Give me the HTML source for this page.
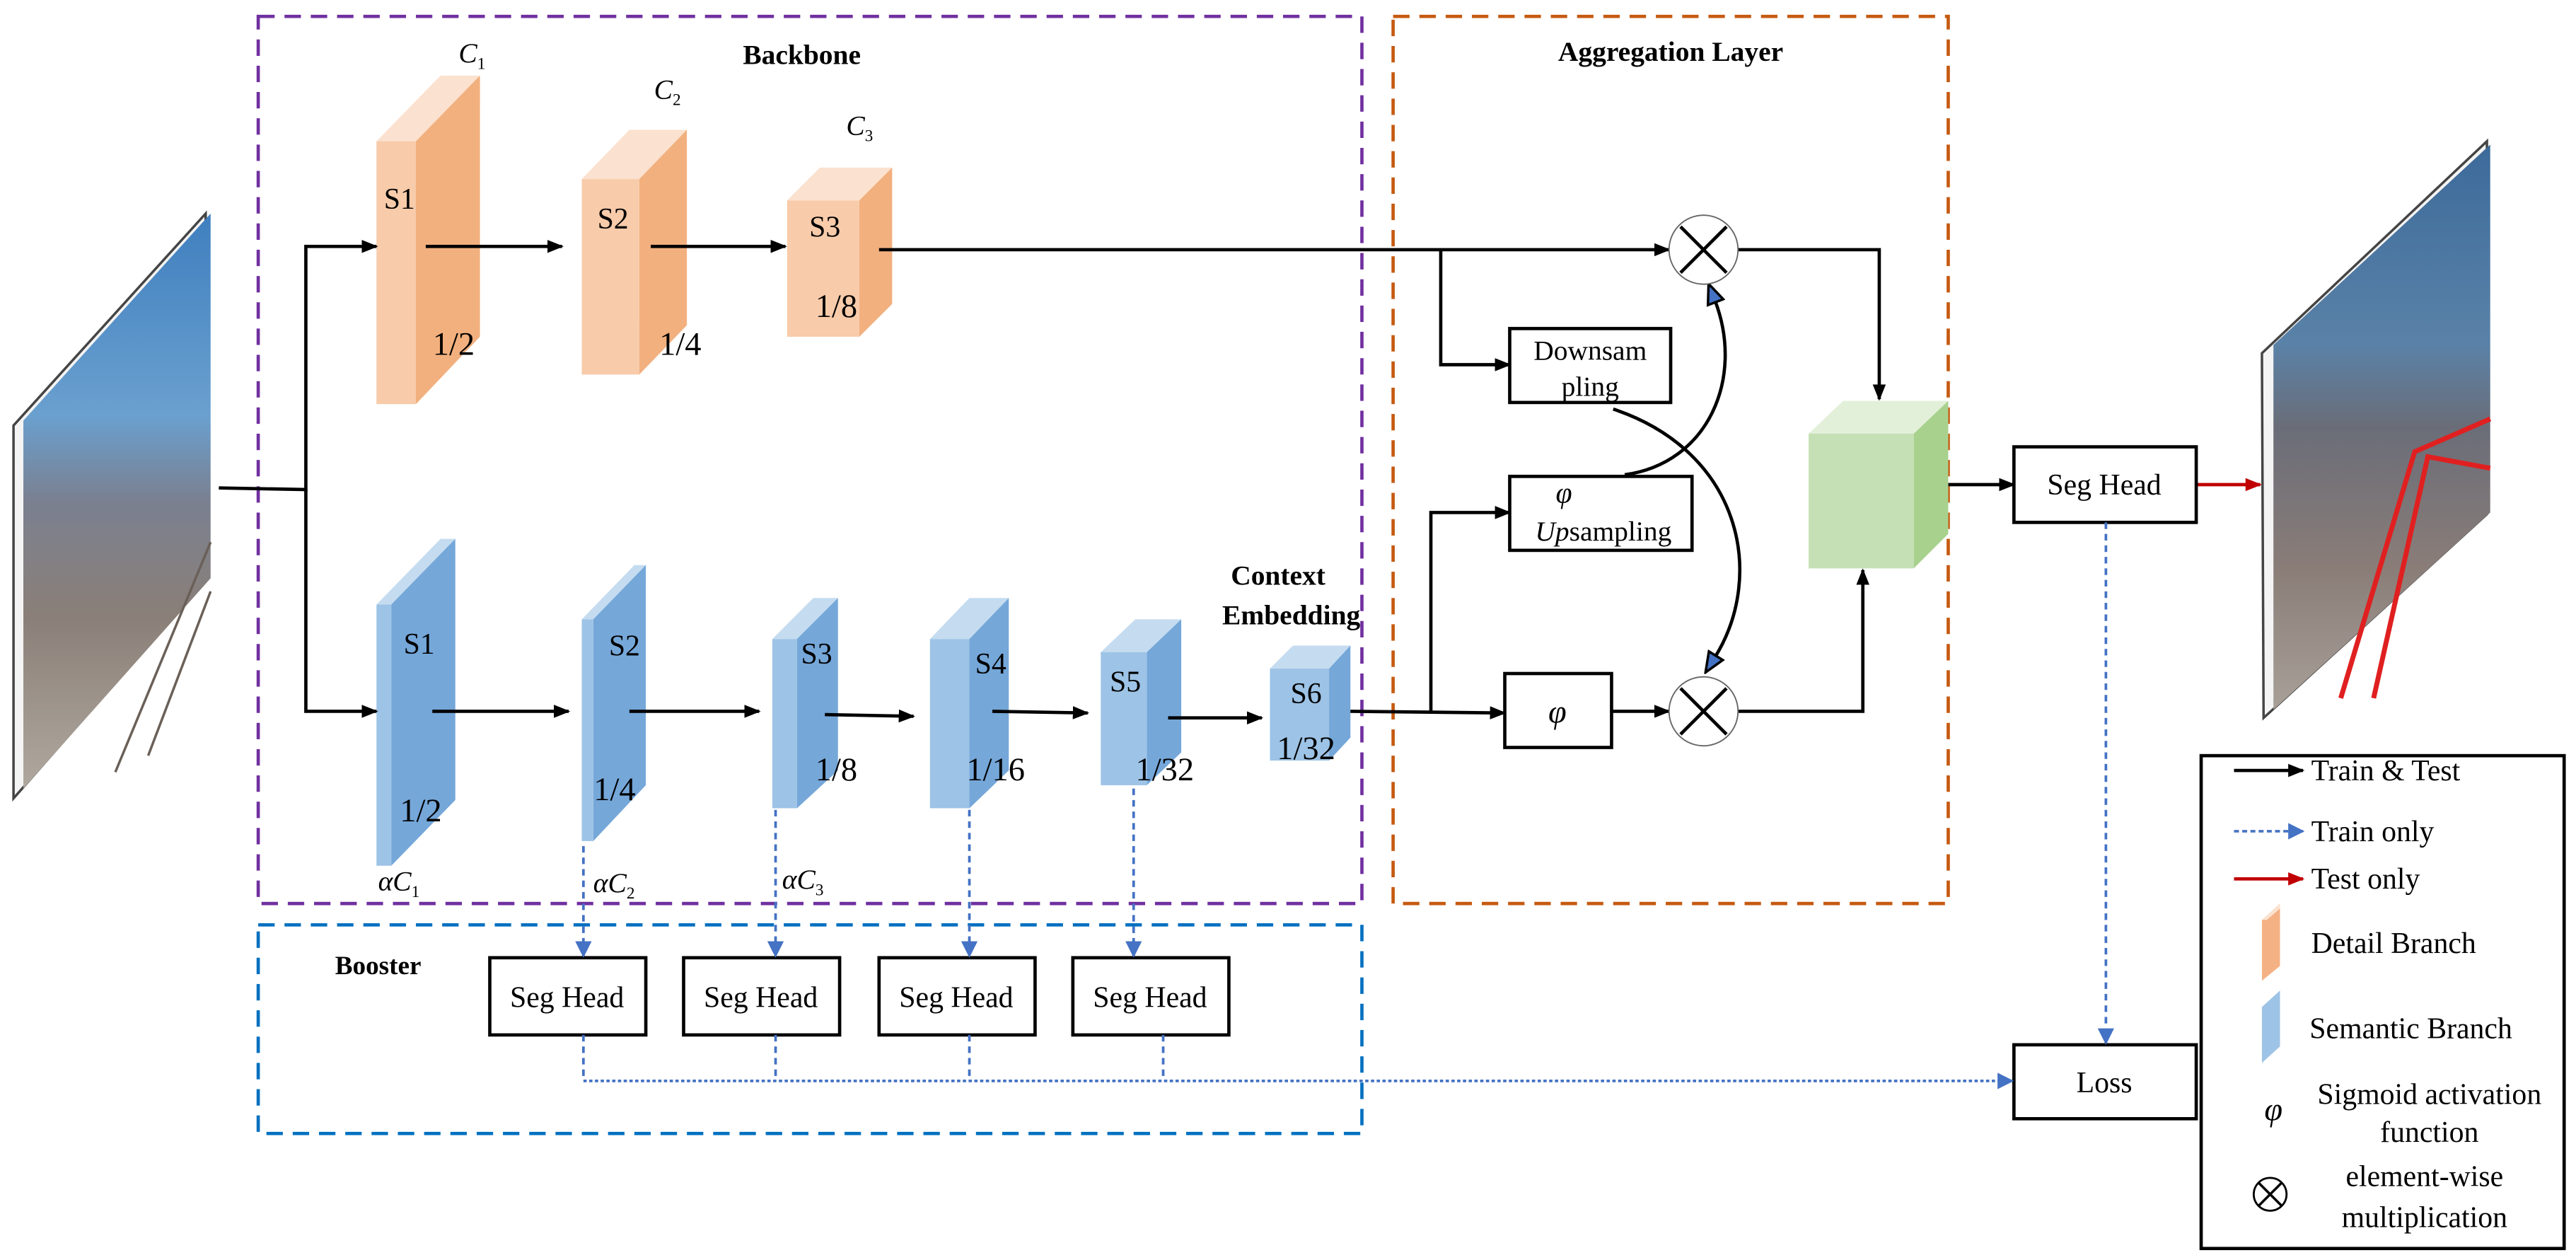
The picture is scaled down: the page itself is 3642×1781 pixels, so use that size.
<!DOCTYPE html>
<html><head><meta charset="utf-8"><style>
html,body{margin:0;padding:0;background:#fff;}
svg{display:block;font-family:"Liberation Serif",serif;}
text{font-family:"Liberation Serif",serif;fill:#000;}
</style></head><body>
<svg width="3642" height="1781" viewBox="0 0 1568 767" xmlns="http://www.w3.org/2000/svg" font-family="Liberation Serif, serif">
<defs>
<marker id="ab" markerWidth="10" markerHeight="8" refX="9" refY="4" orient="auto" markerUnits="userSpaceOnUse"><path d="M0,0 L10,4 L0,8 z" fill="#000"/></marker>
<marker id="abl" markerWidth="10" markerHeight="10" refX="9" refY="5" orient="auto" markerUnits="userSpaceOnUse"><path d="M0,0 L10,5 L0,10 z" fill="#4472C4"/></marker>
<marker id="ar" markerWidth="10" markerHeight="8" refX="9" refY="4" orient="auto" markerUnits="userSpaceOnUse"><path d="M0,0 L10,4 L0,8 z" fill="#C00000"/></marker>
<marker id="atri" markerWidth="14" markerHeight="12" refX="2" refY="6" orient="auto" markerUnits="userSpaceOnUse"><path d="M1,1 L13,6 L1,11 z" fill="#4472C4" stroke="#000" stroke-width="1.5"/></marker>
<linearGradient id="photo" x1="0" y1="0" x2="0" y2="1">
<stop offset="0" stop-color="#3f7fbf"/><stop offset="0.35" stop-color="#6aa0cf"/><stop offset="0.5" stop-color="#7a8090"/><stop offset="0.7" stop-color="#8a7f78"/><stop offset="1" stop-color="#b0a89e"/></linearGradient>
<linearGradient id="photo2" x1="0" y1="0" x2="0" y2="1">
<stop offset="0" stop-color="#3c6a9a"/><stop offset="0.35" stop-color="#5a82a8"/><stop offset="0.5" stop-color="#6a6d78"/><stop offset="0.75" stop-color="#8a7d78"/><stop offset="1" stop-color="#a8a098"/></linearGradient>
</defs>

<rect x="157" y="10" width="672" height="540" fill="none" stroke="#7030A0" stroke-width="2" stroke-dasharray="10,6"/>
<rect x="848" y="10" width="338" height="540" fill="none" stroke="#C55A11" stroke-width="2" stroke-dasharray="10,6"/>
<rect x="157" y="563" width="672" height="127" fill="none" stroke="#0070C0" stroke-width="2" stroke-dasharray="10,6"/>

<text x="488" y="39" font-size="17" font-weight="bold" text-anchor="middle">Backbone</text>
<text x="1017" y="37" font-size="17" font-weight="bold" text-anchor="middle">Aggregation Layer</text>
<text x="230" y="593" font-size="16" font-weight="bold" text-anchor="middle">Booster</text>

<!-- input image -->
<polygon points="8,259 125,130 125,353 8,486" fill="#f4f4f4" stroke="#444" stroke-width="1.5"/>
<polygon points="14,256 128,130 128,352 14,480" fill="url(#photo)"/>
<polyline points="70,470 128,330" stroke="#6a6058" stroke-width="1.5" fill="none"/>
<polyline points="90,460 128,360" stroke="#6a6058" stroke-width="1.5" fill="none"/>

<!-- output image -->
<polygon points="1377,215 1514,86 1514,313 1378,437" fill="#f4f4f4" stroke="#444" stroke-width="1.5"/>
<polygon points="1384,210 1516,88 1516,312 1384,432" fill="url(#photo2)"/>
<polyline points="1425,425 1470,275 1516,255" stroke="#e02020" stroke-width="3" fill="none"/>
<polyline points="1445,425 1478,278 1516,285" stroke="#e02020" stroke-width="3" fill="none"/>

<!-- detail branch -->
<g stroke="none">
<polygon points="229,86 268,46 292,46 253,86" fill="#FBE1CF"/>
<polygon points="253,86 292,46 292,205 253,246" fill="#F2B07E"/>
<rect x="229" y="86" width="24" height="160" fill="#F8CBAA"/>
<polygon points="354,109 383,79 418,79 389,109" fill="#FBE1CF"/>
<polygon points="389,109 418,79 418,198 389,228" fill="#F2B07E"/>
<rect x="354" y="109" width="35" height="119" fill="#F8CBAA"/>
<polygon points="479,122 499,102 543,102 523,122" fill="#FBE1CF"/>
<polygon points="523,122 543,102 543,185 523,205" fill="#F2B07E"/>
<rect x="479" y="122" width="44" height="83" fill="#F8CBAA"/>
</g>
<text x="243" y="127" font-size="18" text-anchor="middle">S1</text>
<text x="276" y="216" font-size="20" text-anchor="middle">1/2</text>
<text x="373" y="139" font-size="18" text-anchor="middle">S2</text>
<text x="414" y="216" font-size="20" text-anchor="middle">1/4</text>
<text x="502" y="144" font-size="18" text-anchor="middle">S3</text>
<text x="509" y="193" font-size="20" text-anchor="middle">1/8</text>
<text x="279" y="38" font-size="17" font-style="italic">C<tspan font-size="10" dy="4" font-style="normal">1</tspan></text>
<text x="398" y="60" font-size="17" font-style="italic">C<tspan font-size="10" dy="4" font-style="normal">2</tspan></text>
<text x="515" y="82" font-size="17" font-style="italic">C<tspan font-size="10" dy="4" font-style="normal">3</tspan></text>

<!-- semantic branch -->
<g stroke="none">
<polygon points="229,368 268,328 277,328 238,368" fill="#C5DCF0"/>
<polygon points="238,368 277,328 277,487 238,527" fill="#75A7D9"/>
<rect x="229" y="368" width="9" height="159" fill="#9DC3E6"/>
<polygon points="354,377 386,344 393,344 361,377" fill="#C5DCF0"/>
<polygon points="361,377 393,344 393,478 361,512" fill="#75A7D9"/>
<rect x="354" y="377" width="7" height="135" fill="#9DC3E6"/>
<polygon points="470,389 495,364 510,364 485,389" fill="#C5DCF0"/>
<polygon points="485,389 510,364 510,469 485,492" fill="#75A7D9"/>
<rect x="470" y="389" width="15" height="103" fill="#9DC3E6"/>
<polygon points="566,389 590,364 614,364 590,389" fill="#C5DCF0"/>
<polygon points="590,389 614,364 614,469 590,492" fill="#75A7D9"/>
<rect x="566" y="389" width="24" height="103" fill="#9DC3E6"/>
<polygon points="670,397 691,377 719,377 698,397" fill="#C5DCF0"/>
<polygon points="698,397 719,377 719,458 698,478" fill="#75A7D9"/>
<rect x="670" y="397" width="28" height="81" fill="#9DC3E6"/>
<polygon points="773,407 787,393 822,393 809,407" fill="#C5DCF0"/>
<polygon points="809,407 822,393 822,449 809,463" fill="#75A7D9"/>
<rect x="773" y="407" width="36" height="56" fill="#9DC3E6"/>
</g>
<text x="255" y="398" font-size="18" text-anchor="middle">S1</text>
<text x="256" y="500" font-size="20" text-anchor="middle">1/2</text>
<text x="380" y="399" font-size="18" text-anchor="middle">S2</text>
<text x="374" y="487" font-size="20" text-anchor="middle">1/4</text>
<text x="497" y="404" font-size="18" text-anchor="middle">S3</text>
<text x="509" y="475" font-size="20" text-anchor="middle">1/8</text>
<text x="603" y="410" font-size="18" text-anchor="middle">S4</text>
<text x="606" y="475" font-size="20" text-anchor="middle">1/16</text>
<text x="685" y="421" font-size="18" text-anchor="middle">S5</text>
<text x="709" y="475" font-size="20" text-anchor="middle">1/32</text>
<text x="795" y="428" font-size="18" text-anchor="middle">S6</text>
<text x="795" y="462" font-size="20" text-anchor="middle">1/32</text>
<text x="778" y="356" font-size="17" font-weight="bold" text-anchor="middle">Context</text>
<text x="786" y="380" font-size="17" font-weight="bold" text-anchor="middle">Embedding</text>
<text x="230" y="542" font-size="17" font-style="italic">αC<tspan font-size="10" dy="4" font-style="normal">1</tspan></text>
<text x="361" y="543" font-size="17" font-style="italic">αC<tspan font-size="10" dy="4" font-style="normal">2</tspan></text>
<text x="476" y="541" font-size="17" font-style="italic">αC<tspan font-size="10" dy="4" font-style="normal">3</tspan></text>

<g stroke="#000" stroke-width="2" fill="none">
<polyline points="133,297 186,298 186,150 229,150" marker-end="url(#ab)"/>
<polyline points="186,298 186,433 229,433" marker-end="url(#ab)"/>
<line x1="259" y1="150" x2="342" y2="150" marker-end="url(#ab)"/>
<line x1="396" y1="150" x2="478" y2="150" marker-end="url(#ab)"/>
<line x1="535" y1="152" x2="1016" y2="152" marker-end="url(#ab)"/>
<line x1="263" y1="433" x2="346" y2="433" marker-end="url(#ab)"/>
<line x1="383" y1="433" x2="462" y2="433" marker-end="url(#ab)"/>
<line x1="502" y1="435" x2="556" y2="436" marker-end="url(#ab)"/>
<line x1="604" y1="433" x2="662" y2="434" marker-end="url(#ab)"/>
<line x1="711" y1="437" x2="768" y2="437" marker-end="url(#ab)"/>
<polyline points="822,433 916,434" marker-end="url(#ab)"/>
<polyline points="871,434 871,312 919,312" marker-end="url(#ab)"/>
<polyline points="877,152 877,222 919,222" marker-end="url(#ab)"/>
<line x1="981" y1="433" x2="1016" y2="433" marker-end="url(#ab)"/>
<polyline points="1058,152 1144,152 1144,243" marker-end="url(#ab)"/>
<polyline points="1058,433 1134,433 1134,347" marker-end="url(#ab)"/>
<line x1="1186" y1="295" x2="1226" y2="295" marker-end="url(#ab)"/>
<path d="M989,289 C1040,282 1062,230 1044,183" marker-end="url(#atri)"/>
<path d="M982,249 C1060,275 1075,350 1044,400" marker-end="url(#atri)"/>
</g>
<line x1="1337" y1="295" x2="1376" y2="295" stroke="#C00000" stroke-width="2" marker-end="url(#ar)"/>

<g>
<circle cx="1037" cy="152" r="21" fill="#fff" stroke="#666" stroke-width="0.8"/>
<line x1="1023" y1="138" x2="1051" y2="166" stroke="#000" stroke-width="2"/>
<line x1="1051" y1="138" x2="1023" y2="166" stroke="#000" stroke-width="2"/>
<circle cx="1037" cy="433" r="21" fill="#fff" stroke="#666" stroke-width="0.8"/>
<line x1="1023" y1="419" x2="1051" y2="447" stroke="#000" stroke-width="2"/>
<line x1="1051" y1="419" x2="1023" y2="447" stroke="#000" stroke-width="2"/>
</g>

<g fill="#fff" stroke="#000" stroke-width="2">
<rect x="919" y="200" width="98" height="45"/>
<rect x="919" y="290" width="111" height="45"/>
<rect x="916" y="410" width="65" height="45"/>
</g>
<text x="968" y="219" font-size="17" text-anchor="middle">Downsam</text>
<text x="968" y="241" font-size="17" text-anchor="middle">pling</text>
<text x="952" y="306" font-size="18" font-style="italic" text-anchor="middle">φ</text>
<text x="976" y="329" font-size="17" text-anchor="middle"><tspan font-style="italic">Up</tspan>sampling</text>
<text x="948" y="440" font-size="20" font-style="italic" text-anchor="middle">φ</text>

<polygon points="1101,264 1122,244 1186,244 1165,264" fill="#E2F0D9"/>
<polygon points="1165,264 1186,244 1186,325 1165,346" fill="#A9D18E"/>
<rect x="1101" y="264" width="64" height="82" fill="#C5E0B4"/>

<g fill="#fff" stroke="#000" stroke-width="2">
<rect x="1226" y="272" width="111" height="46"/>
<rect x="1226" y="636" width="111" height="45"/>
<rect x="298" y="583" width="95" height="47"/>
<rect x="416" y="583" width="95" height="47"/>
<rect x="535" y="583" width="95" height="47"/>
<rect x="653" y="583" width="95" height="47"/>
</g>
<text x="1281" y="301" font-size="18" text-anchor="middle">Seg Head</text>
<text x="1281" y="665" font-size="18" text-anchor="middle">Loss</text>
<text x="345" y="613" font-size="18" text-anchor="middle">Seg Head</text>
<text x="463" y="613" font-size="18" text-anchor="middle">Seg Head</text>
<text x="582" y="613" font-size="18" text-anchor="middle">Seg Head</text>
<text x="700" y="613" font-size="18" text-anchor="middle">Seg Head</text>

<g stroke="#4472C4" stroke-width="1.6" fill="none" stroke-dasharray="4,3">
<line x1="355" y1="515" x2="355" y2="582" marker-end="url(#abl)"/>
<line x1="472" y1="493" x2="472" y2="582" marker-end="url(#abl)"/>
<line x1="590" y1="493" x2="590" y2="582" marker-end="url(#abl)"/>
<line x1="690" y1="480" x2="690" y2="582" marker-end="url(#abl)"/>
<line x1="355" y1="630" x2="355" y2="658"/>
<line x1="472" y1="630" x2="472" y2="658"/>
<line x1="590" y1="630" x2="590" y2="658"/>
<line x1="708" y1="630" x2="708" y2="658"/>
<line x1="1282" y1="318" x2="1282" y2="635" marker-end="url(#abl)"/>
</g>
<line x1="355" y1="658" x2="1225" y2="658" stroke="#4472C4" stroke-width="1.6" stroke-dasharray="2,1.5" marker-end="url(#abl)"/>

<rect x="1340" y="460" width="221" height="300" fill="#fff" stroke="#000" stroke-width="2"/>
<line x1="1360" y1="469" x2="1402" y2="469" stroke="#000" stroke-width="2" marker-end="url(#ab)"/>
<text x="1407" y="475" font-size="18">Train &amp; Test</text>
<line x1="1360" y1="506" x2="1402" y2="506" stroke="#4472C4" stroke-width="1.6" stroke-dasharray="3,2" marker-end="url(#abl)"/>
<text x="1407" y="512" font-size="18">Train only</text>
<line x1="1360" y1="535" x2="1402" y2="535" stroke="#C00000" stroke-width="2" marker-end="url(#ar)"/>
<text x="1407" y="541" font-size="18">Test only</text>
<polygon points="1377,560 1388,550 1388,588 1377,597" fill="#F4B183"/>
<polygon points="1377,560 1388,550 1388,553 1380,560" fill="#FBE1CF"/>
<text x="1407" y="580" font-size="18">Detail Branch</text>
<polygon points="1377,613 1388,603 1388,637 1377,647" fill="#9DC3E6"/>
<text x="1406" y="632" font-size="18">Semantic Branch</text>
<text x="1384" y="682" font-size="20" font-style="italic" text-anchor="middle">φ</text>
<text x="1479" y="672" font-size="18" text-anchor="middle">Sigmoid activation</text>
<text x="1479" y="695" font-size="18" text-anchor="middle">function</text>
<circle cx="1382" cy="727" r="10" fill="#fff" stroke="#000" stroke-width="1.2"/>
<line x1="1375" y1="720" x2="1389" y2="734" stroke="#000" stroke-width="1.5"/>
<line x1="1389" y1="720" x2="1375" y2="734" stroke="#000" stroke-width="1.5"/>
<text x="1476" y="722" font-size="18" text-anchor="middle">element-wise</text>
<text x="1476" y="747" font-size="18" text-anchor="middle">multiplication</text>
</svg>
</body></html>
